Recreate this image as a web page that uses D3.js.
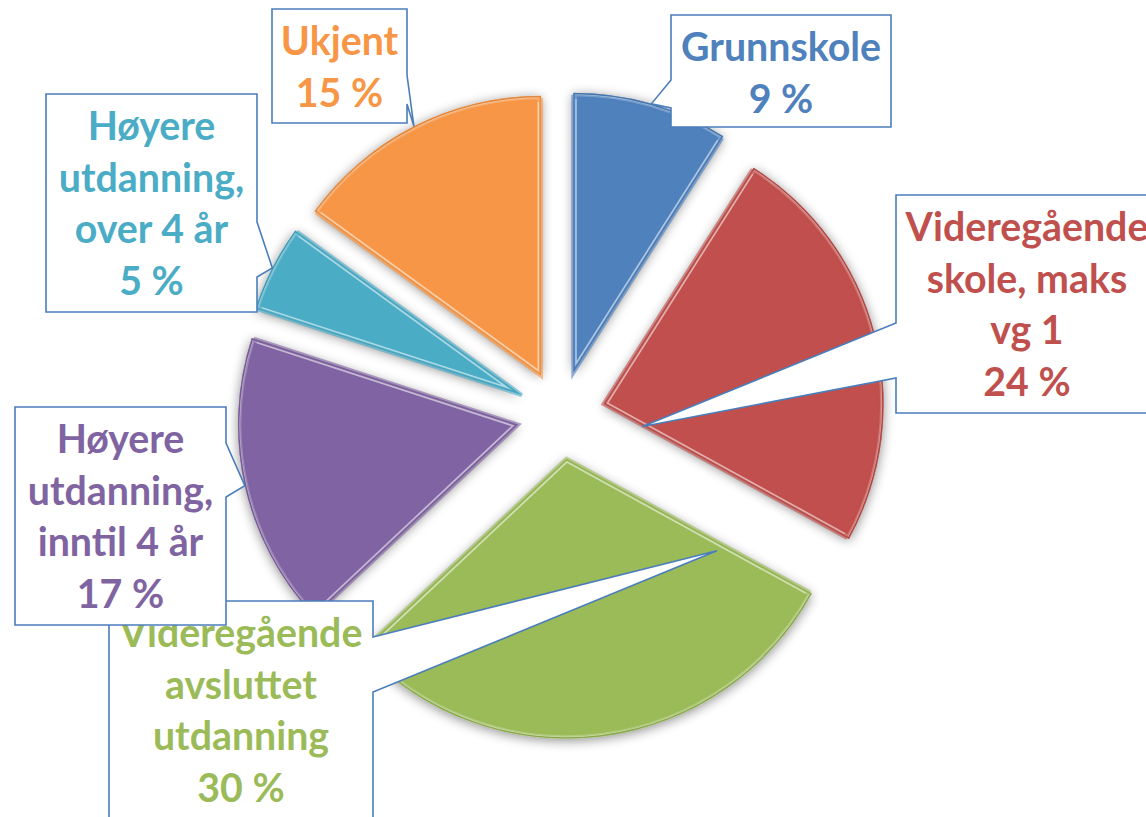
<!DOCTYPE html>
<html>
<head>
<meta charset="utf-8">
<script src="https://cdn.jsdelivr.net/npm/d3@7"></script>
<style>
  body { margin: 0; background: #fff; }
  svg { display: block; }
</style>
</head>
<body>
<div id="chart"></div>
<script>
// data
const categories = ['Grunnskole', 'Videregående skole, maks vg 1', 'Videregående avsluttet utdanning',
  'Høyere utdanning, inntil 4 år', 'Høyere utdanning, over 4 år', 'Ukjent'];
const values = [9, 24, 30, 17, 5, 15];
const labelLines = [
  ['Grunnskole'],
  ['Videregående', 'skole, maks', 'vg 1'],
  ['Videregående', 'avsluttet', 'utdanning'],
  ['Høyere', 'utdanning,', 'inntil 4 år'],
  ['Høyere', 'utdanning,', 'over 4 år'],
  ['Ukjent']
];
const colors = ['#4F81BD', '#C0504D', '#9BBB59', '#8064A2', '#4BACC6', '#F79646'];

// callout layout: box, side the pointer leaves from, pointer base, tip (angle in slice, radius fraction)
const callouts = [
  { box: [671, 15, 220, 112], side: 'left', base: [80, 108], tip: [null, 1.0] },
  { box: [896, 195, 262, 218], side: 'left', base: [323, 378], tip: [120, 0.16] },
  { box: [109, 601, 264, 230], side: 'right', base: [637, 692], tip: [121.5, 0.63] },
  { box: [15, 407, 211, 218], side: 'right', base: [443, 497], tip: [null, 1.0] },
  { box: [46, 94, 211, 218], side: 'right', base: [222, 277], tip: [null, 1.0] },
  { box: [272, 9, 135, 114], side: 'right', base: [75, 104], tip: [null, 1.0] }
];

const width = 1146, height = 817;
const cx = 561, cy = 415, radius = 280, explode = 44;

const svg = d3.select('#chart').append('svg')
  .attr('width', width)
  .attr('height', height);

const defs = svg.append('defs');
const shadow = defs.append('filter').attr('id', 'shadow')
  .attr('x', '-20%').attr('y', '-20%').attr('width', '140%').attr('height', '140%');
shadow.append('feGaussianBlur').attr('in', 'SourceAlpha').attr('stdDeviation', 6).attr('result', 'blur');
shadow.append('feOffset').attr('dx', 0).attr('dy', 2).attr('result', 'off');
shadow.append('feComponentTransfer').attr('in', 'off').attr('result', 'soft')
  .append('feFuncA').attr('type', 'linear').attr('slope', 0.45);
const merge = shadow.append('feMerge');
merge.append('feMergeNode').attr('in', 'soft');
merge.append('feMergeNode').attr('in', 'SourceGraphic');

const data = categories.map((c, i) => ({ name: c, value: values[i], lines: labelLines[i], color: colors[i] }));

const pie = d3.pie().sort(null).value(d => d.value);
const arcs = pie(data);
const arc = d3.arc().innerRadius(0).outerRadius(radius);

// exploded offset for each slice
arcs.forEach(a => {
  const mid = (a.startAngle + a.endAngle) / 2;
  a.ox = cx + explode * Math.sin(mid);
  a.oy = cy - explode * Math.cos(mid);
});

const slices = svg.append('g').selectAll('g')
  .data(arcs)
  .enter()
  .append('g')
  .attr('transform', d => `translate(${d.ox},${d.oy})`);

slices.append('clipPath')
  .attr('id', (d, i) => 'clip' + i)
  .append('path')
  .attr('d', arc);

slices.append('path')
  .attr('d', arc)
  .attr('fill', d => d.data.color)
  .attr('filter', 'url(#shadow)');

// bevel highlight just inside the edges
slices.append('path')
  .attr('d', arc)
  .attr('fill', 'none')
  .attr('stroke', d => d3.interpolateRgb(d.data.color, '#fff')(0.65))
  .attr('stroke-width', 7)
  .attr('stroke-opacity', 0.85)
  .attr('clip-path', (d, i) => `url(#clip${i})`);
slices.append('path')
  .attr('d', arc)
  .attr('fill', 'none')
  .attr('stroke', d => d3.color(d.data.color).darker(0.3))
  .attr('stroke-width', 3)
  .attr('clip-path', (d, i) => `url(#clip${i})`);
slices.append('path')
  .attr('d', d3.arc().innerRadius(0).outerRadius(radius - 4))
  .attr('fill', 'none')
  .attr('stroke', d => d.data.color)
  .attr('stroke-width', 4)
  .attr('stroke-opacity', 0.6);

// font sizing: Calibri is not installed, so fit Lato to the measured word width
const fontFamily = 'Lato, "Open Sans", sans-serif';
const probe = svg.append('text')
  .attr('font-family', fontFamily).attr('font-weight', 700).attr('font-size', 40)
  .text('Grunnskole');
const probeW = probe.node().getComputedTextLength() || 200;
probe.remove();
const fontSize = Math.min(44, 40 * 200 / probeW);
const lineGap = 51.5;

const labels = svg.append('g');
arcs.forEach((a, i) => {
  const c = callouts[i];
  const [bx, by, bw, bh] = c.box;
  const ang = (c.tip[0] == null ? (a.startAngle + a.endAngle) / 2 : c.tip[0] * Math.PI / 180);
  const tx = a.ox + radius * c.tip[1] * Math.sin(ang);
  const ty = a.oy - radius * c.tip[1] * Math.cos(ang);
  const p = d3.path();
  p.moveTo(bx, by);
  p.lineTo(bx + bw, by);
  if (c.side === 'right') {
    p.lineTo(bx + bw, c.base[0]);
    p.lineTo(tx, ty);
    p.lineTo(bx + bw, c.base[1]);
  }
  p.lineTo(bx + bw, by + bh);
  p.lineTo(bx, by + bh);
  if (c.side === 'left') {
    p.lineTo(bx, c.base[1]);
    p.lineTo(tx, ty);
    p.lineTo(bx, c.base[0]);
  }
  p.closePath();

  const g = labels.append('g');
  g.append('path')
    .attr('d', p.toString())
    .attr('fill', '#fff')
    .attr('stroke', '#4A7EBB')
    .attr('stroke-width', 1.6)
    .attr('stroke-linejoin', 'miter');

  const lines = a.data.lines.concat([d3.format('d')(a.data.value) + ' %']);
  g.append('text')
    .attr('font-family', fontFamily)
    .attr('font-weight', 700)
    .attr('font-size', fontSize)
    .attr('fill', a.data.color)
    .attr('text-anchor', 'middle')
    .selectAll('tspan')
    .data(lines)
    .enter()
    .append('tspan')
    .attr('x', bx + bw / 2)
    .attr('y', (d, k) => by + 46 + k * lineGap)
    .text(d => d);
});
</script>
</body>
</html>
